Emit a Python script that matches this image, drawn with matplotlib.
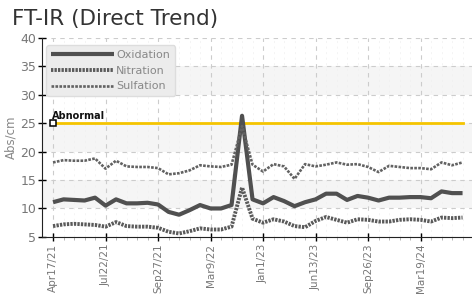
import matplotlib
matplotlib.use('Agg')
import matplotlib.pyplot as plt
import numpy as np

# sample dates (only every 5th shown on the axis)
tick_labels = ['Apr17/21', 'Jul22/21', 'Sep27/21', 'Mar9/22',
               'Jan1/23', 'Jun13/23', 'Sep26/23', 'Mar19/24']

oxidation = [11.1, 11.6, 11.5, 11.4, 11.9, 10.5, 11.6, 10.9, 10.9, 11.0,
             10.7, 9.4, 8.9, 9.7, 10.6, 10.0, 10.0, 10.6, 26.3, 11.6,
             10.9, 12.0, 11.3, 10.4, 11.1, 11.6, 12.6, 12.6, 11.5, 12.2,
             11.9, 11.4, 11.9, 11.9, 12.0, 12.0, 11.8, 13.0, 12.7, 12.7]
nitration = [6.9, 7.2, 7.3, 7.2, 7.1, 6.8, 7.6, 6.9, 6.8, 6.8,
             6.6, 5.9, 5.6, 6.0, 6.5, 6.3, 6.3, 6.8, 13.7, 8.2,
             7.5, 8.1, 7.7, 6.9, 6.7, 7.8, 8.5, 8.0, 7.5, 8.1,
             8.0, 7.7, 7.7, 8.0, 8.1, 8.0, 7.7, 8.4, 8.3, 8.4]
sulfation = [18.1, 18.5, 18.4, 18.4, 18.8, 17.0, 18.4, 17.4, 17.3, 17.3,
             17.1, 16.0, 16.2, 16.7, 17.6, 17.4, 17.3, 17.7, 24.5, 17.7,
             16.5, 17.8, 17.4, 15.2, 17.8, 17.4, 17.7, 18.1, 17.7, 17.8,
             17.3, 16.4, 17.5, 17.3, 17.1, 17.1, 16.9, 18.1, 17.6, 18.1]
abnormal = 25

x = np.arange(len(oxidation))
cond = ['DejaVu Sans Condensed', 'Liberation Sans Narrow', 'DejaVu Sans']

fig = plt.figure(figsize=(4.72, 3.01), dpi=100)
ax = fig.add_axes([0.089, 0.213, 0.911, 0.661])

for lo in (10, 20, 30):
    ax.axhspan(lo, lo + 5, color='#f5f5f5', zorder=0, lw=0)

ax.plot(x, oxidation, color='#505050', lw=3.0, solid_capstyle='butt', label='Oxidation', zorder=3)
ax.plot(x, nitration, color='#5a5a5a', lw=2.8, ls=(0, (0.6, 0.3)), label='Nitration', zorder=3)
ax.plot(x, sulfation, color='#626262', lw=1.9, ls=(0, (1.0, 0.5)), label='Sulfation', zorder=3)

ax.plot([x[0], x[-1]], [abnormal, abnormal], color='#f5c400', lw=2.0, zorder=2)
ax.plot([x[0]], [abnormal], marker='s', ms=4.5, mfc='white', mec='black', mew=1.1, zorder=4)
ax.text(x[0] - 0.1, abnormal + 0.8, 'Abnormal', fontsize=7, fontweight='bold',
        family=cond, color='#111111')

ax.set_xlim(-1.05, 39.9)
ax.set_ylim(5, 40)
ax.set_yticks(range(5, 41, 5))
ax.set_xticks(x[::5])
ax.set_xticklabels(tick_labels, rotation=90, family=cond, fontsize=7.5, color='#777777')
ax.set_xticks(x, minor=True)
for lab in ax.get_yticklabels():
    lab.set_family(cond)
ax.tick_params(axis='y', labelsize=9, labelcolor='#777777', direction='inout', length=6, width=1, pad=1)
ax.tick_params(axis='x', which='major', direction='inout', length=6, width=1, pad=2)
ax.tick_params(axis='x', which='minor', direction='out', length=2, width=0.6, color='#aaaaaa')

ax.grid(axis='y', color='#cccccc', ls=(0, (4, 4)), lw=0.8)
ax.grid(axis='x', which='major', color='#cccccc', ls=(0, (4, 4)), lw=0.8)
ax.grid(axis='x', which='minor', color='#f0f0f0', ls=(0, (3, 5)), lw=0.5)
ax.set_axisbelow(True)

for s in ('top', 'right'):
    ax.spines[s].set_visible(False)
ax.spines['left'].set_color('#222222')
ax.spines['bottom'].set_color('#222222')

ax.set_ylabel('Abs/cm', family=cond, fontsize=8.5, color='#888888', labelpad=2)

leg = ax.legend(loc='upper left', bbox_to_anchor=(0.0, 0.985), handlelength=5.6,
                handletextpad=0.2, labelspacing=0.5, borderpad=0.45,
                prop={'family': cond, 'size': 8}, fancybox=True, framealpha=1,
                facecolor='#ececec', edgecolor='#dddddd', borderaxespad=0.4)
for t in leg.get_texts():
    t.set_color('#888888')

fig.text(0.025, 0.917, 'FT-IR (Direct Trend)', fontsize=15.5, color='#333333')

fig.savefig('out.png')
